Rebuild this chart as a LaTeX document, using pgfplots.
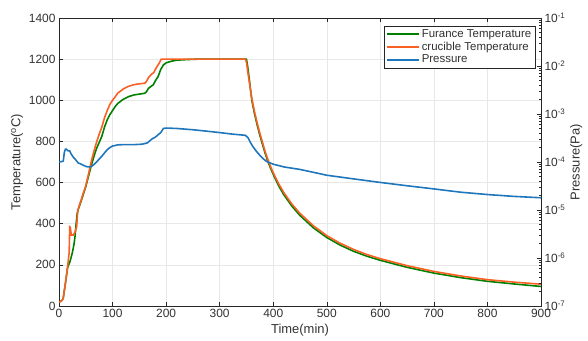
\documentclass[border=0pt]{standalone}
\usepackage{fontspec}
\setmainfont{Liberation Sans}
\usepackage{pgfplots}
\usepackage{pgfplotstable}
\pgfplotsset{compat=1.18}
\definecolor{furn}{RGB}{0,128,0}
\definecolor{cruc}{RGB}{250,95,35}
\definecolor{pres}{RGB}{30,118,188}
\definecolor{axc}{RGB}{38,38,38}
\definecolor{txc}{RGB}{50,50,50}

\pgfplotstableread{
t T
0 20
3 22
6 28
8 40
12 110
16 190
19 260
20 385
21 383
23 345
27 345
30 360
33 385
35 465
40 505
45 545
50 585
55 640
60 700
65 750
70 795
75 835
80 870
85 915
90 950
95 980
100 1000
110 1035
120 1055
130 1068
140 1076
150 1080
160 1083
163 1090
167 1110
172 1125
177 1135
182 1160
187 1180
191 1200
348 1200
350 1185
353 1130
357 1060
360 1010
365 945
370 890
375 840
380 795
385 750
390 712
395 678
400 648
410 595
420 550
435 495
450 450
475 390
500 342
525 305
550 275
575 250
600 230
650 196
700 168
750 146
800 128
850 116
900 106
}\crucible

\pgfplotstableread{
t T
0 20
3 22
6 28
8 40
12 110
16 185
18 200
20 212
22 230
25 260
28 300
30 340
32 400
34 450
36 470
40 500
45 540
50 580
55 630
60 680
65 725
70 765
75 795
80 825
85 870
90 905
95 930
100 950
105 970
110 985
120 1005
130 1018
140 1026
150 1030
160 1034
163 1040
167 1058
172 1068
176 1075
180 1095
185 1115
190 1150
195 1172
200 1182
210 1190
220 1195
240 1198
260 1200
350 1200
352 1170
355 1110
360 1000
365 935
370 880
375 830
380 785
385 742
390 703
395 670
400 640
410 585
420 540
435 485
450 440
475 380
500 333
525 296
550 266
575 242
600 222
650 188
700 160
750 138
800 120
850 107
900 95
}\furnace

\pgfplotstableread{
t P
0 1.00e-4
5 1.02e-4
8 1.05e-4
10 1.6e-4
12 1.85e-4
14 1.85e-4
17 1.70e-4
20 1.70e-4
23 1.45e-4
27 1.25e-4
30 1.15e-4
33 1.05e-4
36 9.5e-5
40 9.2e-5
45 8.6e-5
50 8.1e-5
55 7.9e-5
60 8.0e-5
65 8.8e-5
70 1.0e-4
75 1.15e-4
80 1.32e-4
85 1.55e-4
90 1.8e-4
95 2.0e-4
100 2.15e-4
110 2.28e-4
120 2.3e-4
140 2.3e-4
155 2.35e-4
160 2.42e-4
165 2.5e-4
170 2.8e-4
175 3.1e-4
180 3.3e-4
185 3.7e-4
190 4.1e-4
195 5.0e-4
200 5.1e-4
220 5.0e-4
250 4.7e-4
275 4.4e-4
300 4.1e-4
325 3.8e-4
348 3.6e-4
353 3.2e-4
357 2.6e-4
362 2.1e-4
368 1.7e-4
375 1.38e-4
382 1.15e-4
388 1.02e-4
395 9.5e-5
400 9.0e-5
420 7.9e-5
450 7.0e-5
475 6.1e-5
500 5.3e-5
550 4.45e-5
600 3.75e-5
650 3.2e-5
700 2.75e-5
750 2.35e-5
800 2.1e-5
850 1.92e-5
900 1.8e-5
}\pressure

\begin{document}
\begin{tikzpicture}
\begin{axis}[
  name=ax,
  scale only axis,
  width=482bp, height=288bp,
  xmin=0, xmax=900, ymin=0, ymax=1400,
  xtick={0,100,...,900}, ytick={0,200,...,1400},
  xtick pos=both, ytick pos=left,
  tick align=inside,
  major tick length=4bp,
  grid=major,
  grid style={gray!18, line width=0.5pt},
  axis line style={axc, line width=0.5pt},
  every tick/.style={axc, line width=0.5pt},
  tick label style={font=\fontsize{12}{14}\selectfont, text=txc},
  label style={font=\fontsize{13}{15}\selectfont, text=txc},
  /pgf/number format/assume math mode=true,
  /pgf/number format/1000 sep={},
  xlabel={Time(min)},
  ylabel={Temperature(\textsuperscript{o}C)},
  xlabel style={yshift=1bp},
  ylabel style={yshift=-1bp},
]
\addplot[furn, line width=1.6pt] table[x=t,y=T] {\furnace};
\addplot[cruc, line width=1.6pt] table[x=t,y=T] {\crucible};
\end{axis}
\begin{axis}[
  at={(ax.south west)}, anchor=south west,
  scale only axis,
  width=482bp, height=288bp,
  xmin=0, xmax=900,
  ymode=log, ymin=1e-7, ymax=1e-1,
  axis x line=none,
  axis y line*=right,
  ytick={1e-7,1e-6,1e-5,1e-4,1e-3,1e-2,1e-1},
  yticklabels={10\textsuperscript{-7},10\textsuperscript{-6},10\textsuperscript{-5},10\textsuperscript{-4},10\textsuperscript{-3},10\textsuperscript{-2},10\textsuperscript{-1}},
  tick align=inside,
  major tick length=4bp,
  minor tick length=2bp,
  axis line style={axc, line width=0.5pt},
  every tick/.style={axc, line width=0.5pt},
  tick label style={font=\fontsize{12}{14}\selectfont, text=txc},
  label style={font=\fontsize{13}{15}\selectfont, text=txc},
  ylabel={Pressure(Pa)},
  ylabel style={yshift=2bp},
  legend style={at={(0.9875,0.972)}, anchor=north east, draw=axc,
    font=\fontsize{11.5}{13}\selectfont, text=txc, inner sep=1.5pt, row sep=-1pt,
    fill=white},
  legend cell align=left,
  legend image code/.code={\draw[#1, line width=2pt] (0bp,0bp) -- (32bp,0bp);},
]
\addlegendimage{furn}
\addlegendentry{Furance Temperature}
\addlegendimage{cruc}
\addlegendentry{crucible Temperature}
\addplot[pres, line width=1.6pt] table[x=t,y=P] {\pressure};
\addlegendentry{Pressure}
\end{axis}
\pgfresetboundingbox
\path ([shift={(-59bp,-34bp)}]ax.south west) rectangle ([shift={(47bp,18bp)}]ax.north east);
\end{tikzpicture}
\end{document}
